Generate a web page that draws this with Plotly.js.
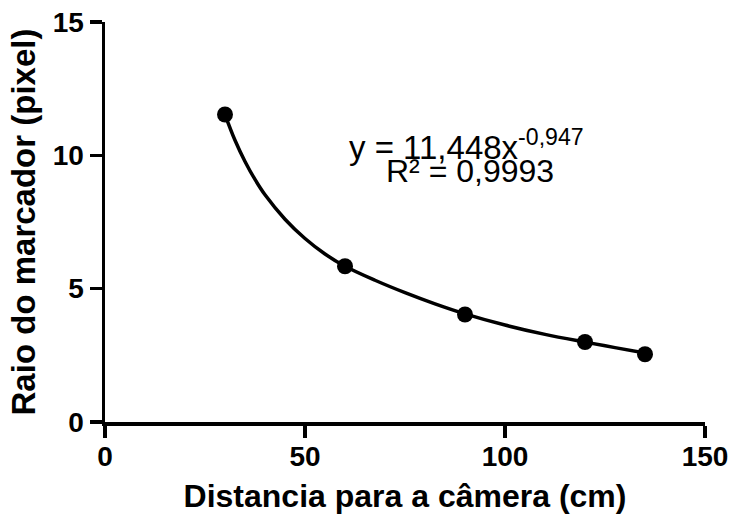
<!DOCTYPE html>
<html>
<head>
<meta charset="utf-8">
<script src="https://cdn.plot.ly/plotly-3.0.1.min.js"></script>
<style>html,body{margin:0;padding:0;background:#fff;}#chart{width:731px;height:516px;}</style>
</head>
<body>
<div id="chart"></div>
<script>
// Measured points
const distanceCm = [30, 60, 90, 120, 135];
const markerRadiusPx = [11.53, 5.84, 4.03, 3.0, 2.54];

// Fitted trend curve
const curveX = [30, 32.5, 35, 37.5, 40, 45, 50, 55, 60, 67.5, 75, 82.5, 90, 100, 110, 120, 127.5, 135];
const curveY = [11.53, 10.565, 9.77, 9.095, 8.52, 7.605, 6.88, 6.30, 5.84, 5.315, 4.85, 4.43, 4.055, 3.635, 3.285, 2.995, 2.79, 2.59];

const xTicks = [0, 50, 100, 150];
const yTicks = [0, 5, 10, 15];

const eqLine1 = 'y = 11,448x<sup>-0,947</sup>';
const eqLine2 = 'R² = 0,9993';

const FONT = 'Liberation Sans, Arial, Helvetica, sans-serif';

const traces = [
  {
    x: curveX, y: curveY, type: 'scatter', mode: 'lines',
    line: {color: '#000', width: 3.5, shape: 'spline', smoothing: 1},
    hoverinfo: 'skip', showlegend: false
  },
  {
    x: distanceCm, y: markerRadiusPx, type: 'scatter', mode: 'markers',
    marker: {color: '#000', size: 16},
    showlegend: false
  }
];

const axisCommon = {
  showgrid: false, zeroline: false, showline: true,
  linecolor: '#000', linewidth: 3.5,
  ticks: 'outside', ticklen: 12, tickwidth: 3.5, tickcolor: '#000',
  tickfont: {family: FONT, size: 28, color: '#000', weight: 'bold'}
};

const layout = {
  width: 731, height: 516,
  margin: {l: 105, r: 26, t: 22, b: 94},
  paper_bgcolor: '#fff', plot_bgcolor: '#fff',
  xaxis: Object.assign({}, axisCommon, {
    range: [0, 150], tickvals: xTicks, ticktext: xTicks.map(String),
    ticklabelstandoff: -5,
    title: {text: 'Distancia para a câmera (cm)', standoff: 14,
      font: {family: FONT, size: 32, color: '#000', weight: 'bold'}}
  }),
  yaxis: Object.assign({}, axisCommon, {
    range: [0, 15], tickvals: yTicks, ticktext: yTicks.map(String),
    title: {text: 'Raio do marcador (pixel)', standoff: 8,
      font: {family: FONT, size: 33, color: '#000', weight: 'bold'}}
  }),
  annotations: [
    {x: 90.25, y: 10.4, xref: 'x', yref: 'y', text: eqLine1, showarrow: false,
     xanchor: 'center', yanchor: 'middle',
     font: {family: FONT, size: 33, color: '#000'}},
    {x: 91.25, y: 9.42, xref: 'x', yref: 'y', text: eqLine2, showarrow: false,
     xanchor: 'center', yanchor: 'middle',
     font: {family: FONT, size: 32, color: '#000'}}
  ]
};

Plotly.newPlot('chart', traces, layout, {displayModeBar: false, staticPlot: true});
</script>
</body>
</html>
